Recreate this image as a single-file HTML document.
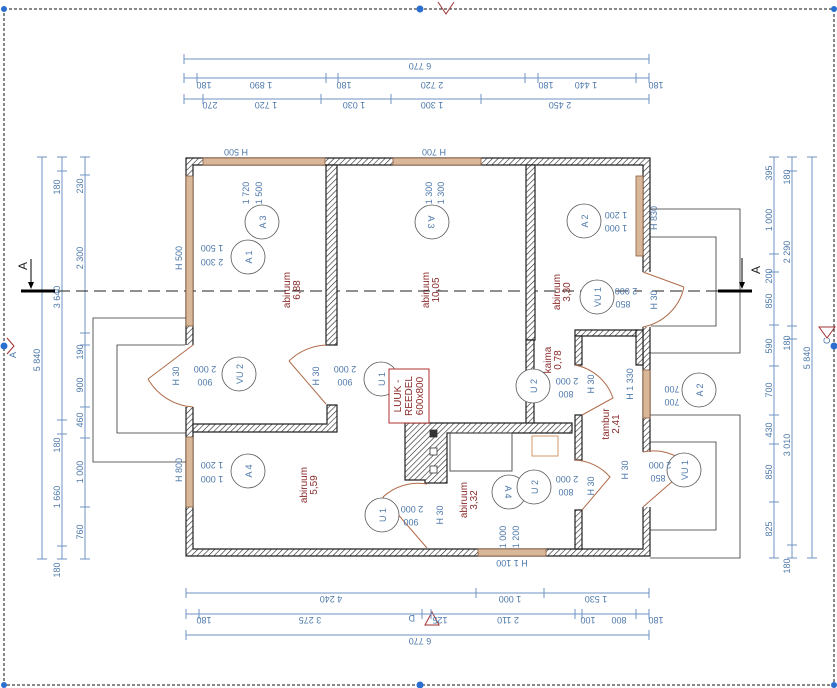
<!DOCTYPE html>
<html><head><meta charset="utf-8"><style>
html,body{margin:0;padding:0;background:#fff;}
svg{display:block;font-family:"Liberation Sans",sans-serif;}
.d{stroke:#6f93c0;stroke-width:1;fill:none}
.t{fill:#4d78aa;font-size:9px}
.r{fill:#8a2a2a;font-size:10px}
.w{fill:url(#h);stroke:#222;stroke-width:1.2}
.g{stroke:#333;stroke-width:.8;fill:none}
.o{stroke:#b06b4a;stroke-width:1;fill:none}
.c{stroke:#555;stroke-width:.8;fill:#fff}
</style></head><body>
<svg width="837" height="688" viewBox="0 0 837 688">
<defs>
<pattern id="h" width="4" height="4" patternUnits="userSpaceOnUse" patternTransform="rotate(45)">
<rect width="4" height="4" fill="#fff"/><line x1="0" y1="0" x2="0" y2="4" stroke="#222" stroke-width="1.2"/></pattern>
</defs>
<!-- dashed frame -->
<rect x="4" y="9" width="830" height="676" fill="none" stroke="#111" stroke-dasharray="3,2" stroke-width="1"/>
<circle cx="4" cy="346" r="3.5" fill="#2a6fd0"/><circle cx="834" cy="346" r="3.5" fill="#2a6fd0"/>
<circle cx="420" cy="9" r="3.5" fill="#2a6fd0"/><circle cx="420" cy="685" r="3.5" fill="#2a6fd0"/>
<circle cx="4" cy="9" r="3" fill="#2a6fd0"/><circle cx="834" cy="9" r="3" fill="#2a6fd0"/>
<circle cx="4" cy="685" r="3" fill="#2a6fd0"/><circle cx="834" cy="685" r="3" fill="#2a6fd0"/>
<path d="M438,2 L446,14 L454,2" fill="none" stroke="#a03030"/>
<path d="M7,338 L14,346 L7,354" fill="none" stroke="#a03030"/>
<path d="M827,338 L819,327 L835,327Z" fill="none" stroke="#a03030"/>
<path d="M425,625 L432,612 L439,625Z" fill="none" stroke="#a03030"/>
<text x="8" y="358" class="t" font-size="12" transform="rotate(-90 12 354)">A</text>
<text x="824" y="342" class="t" font-size="12" transform="rotate(-90 828 340)">C</text>
<text x="415" y="625" class="t" font-size="12" transform="rotate(180 415 620)">D</text>

<!-- top dims -->
<g class="d">
<line x1="184" y1="59" x2="649" y2="59"/><line x1="184" y1="54" x2="184" y2="64"/><line x1="649" y1="54" x2="649" y2="64"/>
<line x1="184" y1="78" x2="649" y2="78"/>
<g><line x1="184" y1="73" x2="184" y2="83"/><line x1="197" y1="73" x2="197" y2="83"/><line x1="326" y1="73" x2="326" y2="83"/><line x1="338" y1="73" x2="338" y2="83"/><line x1="525" y1="73" x2="525" y2="83"/><line x1="538" y1="73" x2="538" y2="83"/><line x1="636" y1="73" x2="636" y2="83"/><line x1="649" y1="73" x2="649" y2="83"/></g>
<line x1="184" y1="99" x2="649" y2="99"/>
<g><line x1="184" y1="94" x2="184" y2="104"/><line x1="203" y1="94" x2="203" y2="104"/><line x1="321" y1="94" x2="321" y2="104"/><line x1="391" y1="94" x2="391" y2="104"/><line x1="481" y1="94" x2="481" y2="104"/><line x1="649" y1="94" x2="649" y2="104"/></g>
</g>
<g class="t">
<text transform="rotate(180 420 66)" x="420" y="69" text-anchor="middle">6 770</text>
<text transform="rotate(180 204 85)" x="204" y="88" text-anchor="middle">180</text>
<text transform="rotate(180 261 85)" x="261" y="88" text-anchor="middle">1 890</text>
<text transform="rotate(180 344 85)" x="344" y="88" text-anchor="middle">180</text>
<text transform="rotate(180 432 85)" x="432" y="88" text-anchor="middle">2 720</text>
<text transform="rotate(180 546 85)" x="546" y="88" text-anchor="middle">180</text>
<text transform="rotate(180 586 85)" x="586" y="88" text-anchor="middle">1 440</text>
<text transform="rotate(180 656 85)" x="656" y="88" text-anchor="middle">180</text>
<text transform="rotate(180 210 105)" x="210" y="108" text-anchor="middle">270</text>
<text transform="rotate(180 266 105)" x="266" y="108" text-anchor="middle">1 720</text>
<text transform="rotate(180 354 105)" x="354" y="108" text-anchor="middle">1 030</text>
<text transform="rotate(180 432 105)" x="432" y="108" text-anchor="middle">1 300</text>
<text transform="rotate(180 560 105)" x="560" y="108" text-anchor="middle">2 450</text>
</g>

<!-- bottom dims -->
<g class="d">
<line x1="186" y1="593" x2="649" y2="593"/><line x1="186" y1="588" x2="186" y2="598"/><line x1="476" y1="588" x2="476" y2="598"/><line x1="544" y1="588" x2="544" y2="598"/><line x1="649" y1="588" x2="649" y2="598"/>
<line x1="186" y1="614" x2="649" y2="614"/><g><line x1="186" y1="609" x2="186" y2="619"/><line x1="199" y1="609" x2="199" y2="619"/><line x1="422" y1="609" x2="422" y2="619"/><line x1="431" y1="609" x2="431" y2="619"/><line x1="575" y1="609" x2="575" y2="619"/><line x1="582" y1="609" x2="582" y2="619"/><line x1="636" y1="609" x2="636" y2="619"/><line x1="649" y1="609" x2="649" y2="619"/></g>
<line x1="186" y1="635" x2="649" y2="635"/><line x1="186" y1="630" x2="186" y2="640"/><line x1="649" y1="630" x2="649" y2="640"/>
</g>
<g class="t">
<text transform="rotate(180 331 599)" x="331" y="602" text-anchor="middle">4 240</text>
<text transform="rotate(180 510 599)" x="510" y="602" text-anchor="middle">1 000</text>
<text transform="rotate(180 596 599)" x="596" y="602" text-anchor="middle">1 530</text>
<text transform="rotate(180 204 620)" x="204" y="623" text-anchor="middle">180</text>
<text transform="rotate(180 310 620)" x="310" y="623" text-anchor="middle">3 275</text>
<text transform="rotate(180 440 620)" x="440" y="623" text-anchor="middle">125</text>
<text transform="rotate(180 508 620)" x="508" y="623" text-anchor="middle">2 110</text>
<text transform="rotate(180 588 620)" x="588" y="623" text-anchor="middle">100</text>
<text transform="rotate(180 619 620)" x="619" y="623" text-anchor="middle">800</text>
<text transform="rotate(180 656 620)" x="656" y="623" text-anchor="middle">180</text>
<text transform="rotate(180 420 641)" x="420" y="644" text-anchor="middle">6 770</text>
<text transform="rotate(180 512 563)" x="512" y="566" text-anchor="middle">H 1 100</text>
</g>

<!-- left dims -->
<g class="d">
<line x1="42" y1="157" x2="42" y2="559"/><line x1="37" y1="157" x2="47" y2="157"/><line x1="37" y1="559" x2="47" y2="559"/>
<line x1="62" y1="157" x2="62" y2="559"/><g><line x1="57" y1="157" x2="67" y2="157"/><line x1="57" y1="171" x2="67" y2="171"/><line x1="57" y1="420" x2="67" y2="420"/><line x1="57" y1="434" x2="67" y2="434"/><line x1="57" y1="546" x2="67" y2="546"/><line x1="57" y1="559" x2="67" y2="559"/></g>
<line x1="85" y1="157" x2="85" y2="559"/><g><line x1="80" y1="157" x2="90" y2="157"/><line x1="80" y1="175" x2="90" y2="175"/><line x1="80" y1="333" x2="90" y2="333"/><line x1="80" y1="345" x2="90" y2="345"/><line x1="80" y1="407" x2="90" y2="407"/><line x1="80" y1="438" x2="90" y2="438"/><line x1="80" y1="507" x2="90" y2="507"/><line x1="80" y1="559" x2="90" y2="559"/></g>
</g>
<g class="t">
<text transform="rotate(-90 40 360)" x="40" y="360" text-anchor="middle">5 840</text>
<text transform="rotate(-90 60 297)" x="60" y="297" text-anchor="middle">3 640</text>
<text transform="rotate(-90 60 187)" x="60" y="187" text-anchor="middle">180</text>
<text transform="rotate(-90 60 445)" x="60" y="445" text-anchor="middle">180</text>
<text transform="rotate(-90 60 497)" x="60" y="497" text-anchor="middle">1 660</text>
<text transform="rotate(-90 60 570)" x="60" y="570" text-anchor="middle">180</text>
<text transform="rotate(-90 83 186)" x="83" y="186" text-anchor="middle">230</text>
<text transform="rotate(-90 83 258)" x="83" y="258" text-anchor="middle">2 300</text>
<text transform="rotate(-90 83 352)" x="83" y="352" text-anchor="middle">190</text>
<text transform="rotate(-90 83 385)" x="83" y="385" text-anchor="middle">900</text>
<text transform="rotate(-90 83 420)" x="83" y="420" text-anchor="middle">460</text>
<text transform="rotate(-90 83 472)" x="83" y="472" text-anchor="middle">1 000</text>
<text transform="rotate(-90 83 532)" x="83" y="532" text-anchor="middle">760</text>
</g>
<!-- right dims -->
<g class="d">
<line x1="774" y1="157" x2="774" y2="558"/><g><line x1="769" y1="157" x2="779" y2="157"/><line x1="769" y1="254" x2="779" y2="254"/><line x1="769" y1="272" x2="779" y2="272"/><line x1="769" y1="325" x2="779" y2="325"/><line x1="769" y1="366" x2="779" y2="366"/><line x1="769" y1="415" x2="779" y2="415"/><line x1="769" y1="444" x2="779" y2="444"/><line x1="769" y1="502" x2="779" y2="502"/><line x1="769" y1="558" x2="779" y2="558"/></g>
<line x1="792" y1="157" x2="792" y2="558"/><g><line x1="787" y1="157" x2="797" y2="157"/><line x1="787" y1="171" x2="797" y2="171"/><line x1="787" y1="326" x2="797" y2="326"/><line x1="787" y1="339" x2="797" y2="339"/><line x1="787" y1="545" x2="797" y2="545"/><line x1="787" y1="558" x2="797" y2="558"/></g>
<line x1="812" y1="157" x2="812" y2="558"/><line x1="807" y1="157" x2="817" y2="157"/><line x1="807" y1="558" x2="817" y2="558"/>
</g>
<g class="t">
<text transform="rotate(-90 772 173)" x="772" y="173" text-anchor="middle">395</text>
<text transform="rotate(-90 772 220)" x="772" y="220" text-anchor="middle">1 000</text>
<text transform="rotate(-90 772 276)" x="772" y="276" text-anchor="middle">200</text>
<text transform="rotate(-90 772 301)" x="772" y="301" text-anchor="middle">850</text>
<text transform="rotate(-90 772 346)" x="772" y="346" text-anchor="middle">590</text>
<text transform="rotate(-90 772 390)" x="772" y="390" text-anchor="middle">700</text>
<text transform="rotate(-90 772 430)" x="772" y="430" text-anchor="middle">430</text>
<text transform="rotate(-90 772 472)" x="772" y="472" text-anchor="middle">850</text>
<text transform="rotate(-90 772 529)" x="772" y="529" text-anchor="middle">825</text>
<text transform="rotate(-90 790 177)" x="790" y="177" text-anchor="middle">180</text>
<text transform="rotate(-90 790 252)" x="790" y="252" text-anchor="middle">2 290</text>
<text transform="rotate(-90 790 343)" x="790" y="343" text-anchor="middle">180</text>
<text transform="rotate(-90 790 445)" x="790" y="445" text-anchor="middle">3 010</text>
<text transform="rotate(-90 790 566)" x="790" y="566" text-anchor="middle">180</text>
<text transform="rotate(-90 810 358)" x="810" y="358" text-anchor="middle">5 840</text>
</g>

<!-- terraces / outlines -->
<g class="g">
<path d="M186,318 L93,318 L93,462 L186,462"/>
<path d="M186,345 L117,345 L117,433 L186,433"/>
<path d="M650,209 L740,209 L740,353 L650,353"/>
<path d="M650,237 L716,237 L716,326 L650,326"/>
<path d="M650,415 L740,415 L740,558 L650,558"/>
<path d="M650,442 L716,442 L716,530 L650,530"/>
</g>

<!-- section line -->
<line x1="22" y1="291" x2="750" y2="291" stroke="#222" stroke-dasharray="12,6" stroke-width="1"/>
<line x1="21" y1="291" x2="55" y2="291" stroke="#000" stroke-width="3"/>
<line x1="31" y1="259" x2="31" y2="288" stroke="#000"/><path d="M28,282 L31,289 L34,282Z"/>
<text x="22" y="275" transform="rotate(-90 22 270)" font-size="12" fill="#222">A</text>
<line x1="718" y1="291" x2="752" y2="291" stroke="#000" stroke-width="3"/>
<line x1="742" y1="258" x2="742" y2="288" stroke="#000"/><path d="M739,282 L742,289 L745,282Z"/>
<text x="754" y="272" transform="rotate(-90 758 270)" font-size="12" fill="#222">A</text>

<!-- outer walls -->
<path class="w" fill-rule="evenodd" d="M186,158 H650 V556 H186Z M193,165 V549 H643 V165Z"/>
<!-- windows (wood) -->
<g fill="#d9b89a" stroke="#8a5a3a" stroke-width=".8">
<rect x="203" y="158" width="122" height="7"/><rect x="393" y="158" width="88" height="7"/>
<rect x="186" y="176" width="7" height="150"/><rect x="186" y="437" width="7" height="70"/>
<rect x="636" y="176" width="7" height="80"/><rect x="643" y="370" width="7" height="48"/>
<rect x="478" y="549" width="68" height="7"/>
</g>
<!-- door openings in outer wall -->
<g fill="#fff"><rect x="185" y="345" width="9" height="62"/><rect x="642" y="272" width="9" height="55"/><rect x="642" y="452" width="9" height="55"/></g>
<!-- interior walls -->
<path class="w" d="M326,165 H337 V345 H326Z"/>
<path class="w" d="M327,405 H337 V432 H193 V424 H327Z"/>
<path class="w" d="M526,165 H535 V340 H526Z"/>
<path class="w" d="M526,340 H534 V425 H526Z"/>
<path class="w" d="M405,423 H572 V433 H447 V483 H425 V480 H405Z"/>
<path class="w" d="M575,330 H636 V336 H575Z"/>
<path class="w" d="M575,336 H582 V365 H575Z"/>
<path class="w" d="M575,415 H582 V460 H575Z"/>
<path class="w" d="M575,510 H582 V549 H575Z"/>
<path class="w" d="M636,330 H643 V365 H636Z"/>
<g fill="#fff" stroke="#333" stroke-width=".8"><rect x="430" y="430" width="7" height="7" fill="#333"/><rect x="430" y="448" width="7" height="7"/><rect x="430" y="466" width="7" height="7"/></g>
<rect x="450" y="433" width="62" height="38" fill="none" stroke="#555"/>
<rect x="532" y="436" width="26" height="20" fill="none" stroke="#d09a6a"/>

<!-- doors -->
<g class="o">
<path d="M193,345 L148,379 M148,379 A56,56 0 0 0 193,407"/>
<path d="M326,404 L289,361 M289,361 A56,56 0 0 1 326,345"/>
<path d="M643,272 L684,287 M684,287 A52,52 0 0 1 643,327"/>
<path d="M643,507 L690,466 M690,466 A52,52 0 0 0 643,452"/>
<path d="M427,548 L383,497 M383,497 A52,52 0 0 1 427,484"/>
<path d="M575,365 A50,50 0 0 1 613,398 L582,415"/>
<path d="M575,460 A50,50 0 0 1 610,477 L582,510"/>
</g>

<!-- circle tags -->
<g class="c">
<circle cx="262" cy="222" r="17"/><circle cx="248" cy="257" r="17"/><circle cx="432" cy="222" r="17"/>
<circle cx="584" cy="221" r="17"/><circle cx="597" cy="297" r="17"/><circle cx="239" cy="374" r="17"/>
<circle cx="381" cy="379" r="17"/><circle cx="533" cy="386" r="17"/><circle cx="248" cy="471" r="17"/>
<circle cx="509" cy="492" r="17"/><circle cx="534" cy="487" r="17"/><circle cx="382" cy="515" r="17"/>
<circle cx="699" cy="390" r="17"/><circle cx="684" cy="470" r="17"/>
</g>
<g class="t" font-size="10">
<text transform="rotate(-90 266 222)" x="266" y="222" text-anchor="middle">A 3</text>
<text transform="rotate(-90 252 257)" x="252" y="257" text-anchor="middle">A 1</text>
<text transform="rotate(90 428 222)" x="428" y="222" text-anchor="middle">A 3</text>
<text transform="rotate(-90 588 221)" x="588" y="221" text-anchor="middle">A 2</text>
<text transform="rotate(-90 601 297)" x="601" y="297" text-anchor="middle">VU 1</text>
<text transform="rotate(-90 243 374)" x="243" y="374" text-anchor="middle">VU 2</text>
<text transform="rotate(-90 385 379)" x="385" y="379" text-anchor="middle">U 1</text>
<text transform="rotate(-90 537 386)" x="537" y="386" text-anchor="middle">U 2</text>
<text transform="rotate(-90 252 471)" x="252" y="471" text-anchor="middle">A 4</text>
<text transform="rotate(90 505 492)" x="505" y="492" text-anchor="middle">A 4</text>
<text transform="rotate(-90 538 487)" x="538" y="487" text-anchor="middle">U 2</text>
<text transform="rotate(-90 386 515)" x="386" y="515" text-anchor="middle">U 1</text>
<text transform="rotate(-90 703 390)" x="703" y="390" text-anchor="middle">A 2</text>
<text transform="rotate(-90 688 470)" x="688" y="470" text-anchor="middle">VU 1</text>
</g>
<!-- tag leader text (upside-down) -->
<g class="t">
<text transform="rotate(-90 249 193)" x="249" y="193" text-anchor="middle">1 720</text>
<text transform="rotate(-90 262 193)" x="262" y="193" text-anchor="middle">1 500</text>
<text transform="rotate(-90 432 193)" x="432" y="193" text-anchor="middle">1 300</text>
<text transform="rotate(-90 444 193)" x="444" y="193" text-anchor="middle">1 300</text>
<text transform="rotate(180 212 248)" x="212" y="251" text-anchor="middle">1 500</text>
<text transform="rotate(180 212 262)" x="212" y="265" text-anchor="middle">2 300</text>
<text transform="rotate(180 616 215)" x="616" y="218" text-anchor="middle">1 200</text>
<text transform="rotate(180 616 228)" x="616" y="231" text-anchor="middle">1 000</text>
<text transform="rotate(180 626 291)" x="626" y="294" text-anchor="middle">2 000</text>
<text transform="rotate(180 623 304)" x="623" y="307" text-anchor="middle">850</text>
<text transform="rotate(180 205 369)" x="205" y="372" text-anchor="middle">2 000</text>
<text transform="rotate(180 205 382)" x="205" y="385" text-anchor="middle">900</text>
<text transform="rotate(180 345 369)" x="345" y="372" text-anchor="middle">2 000</text>
<text transform="rotate(180 345 382)" x="345" y="385" text-anchor="middle">900</text>
<text transform="rotate(180 567 381)" x="567" y="384" text-anchor="middle">2 000</text>
<text transform="rotate(180 566 394)" x="566" y="397" text-anchor="middle">800</text>
<text transform="rotate(180 212 465)" x="212" y="468" text-anchor="middle">1 200</text>
<text transform="rotate(180 212 479)" x="212" y="482" text-anchor="middle">1 000</text>
<text transform="rotate(180 567 479)" x="567" y="482" text-anchor="middle">2 000</text>
<text transform="rotate(180 566 492)" x="566" y="495" text-anchor="middle">800</text>
<text transform="rotate(180 412 509)" x="412" y="512" text-anchor="middle">2 000</text>
<text transform="rotate(180 411 522)" x="411" y="525" text-anchor="middle">900</text>
<text transform="rotate(180 672 389)" x="672" y="392" text-anchor="middle">700</text>
<text transform="rotate(180 672 402)" x="672" y="405" text-anchor="middle">700</text>
<text transform="rotate(180 660 465)" x="660" y="468" text-anchor="middle">2 000</text>
<text transform="rotate(180 658 478)" x="658" y="481" text-anchor="middle">850</text>
<text transform="rotate(-90 506 537)" x="506" y="537" text-anchor="middle">1 000</text>
<text transform="rotate(-90 519 537)" x="519" y="537" text-anchor="middle">1 200</text>
<text transform="rotate(-90 182 258)" x="182" y="258" text-anchor="middle">H 500</text>
<text transform="rotate(-90 182 470)" x="182" y="470" text-anchor="middle">H 800</text>
<text transform="rotate(180 236 152)" x="236" y="155" text-anchor="middle">H 500</text>
<text transform="rotate(180 434 152)" x="434" y="155" text-anchor="middle">H 700</text>
<text transform="rotate(-90 657 218)" x="657" y="218" text-anchor="middle">H 830</text>
<text transform="rotate(-90 657 300)" x="657" y="300" text-anchor="middle">H 30</text>
<text transform="rotate(-90 179 376)" x="179" y="376" text-anchor="middle">H 30</text>
<text transform="rotate(-90 319 376)" x="319" y="376" text-anchor="middle">H 30</text>
<text transform="rotate(-90 594 384)" x="594" y="384" text-anchor="middle">H 30</text>
<text transform="rotate(-90 633 384)" x="633" y="384" text-anchor="middle">H 1 330</text>
<text transform="rotate(-90 594 486)" x="594" y="486" text-anchor="middle">H 30</text>
<text transform="rotate(-90 628 470)" x="628" y="470" text-anchor="middle">H 30</text>
<text transform="rotate(-90 443 515)" x="443" y="515" text-anchor="middle">H 30</text>
</g>
<!-- room labels -->
<g class="r">
<text transform="rotate(-90 290 290)" x="290" y="290" text-anchor="middle">abiruum</text>
<text transform="rotate(-90 300 290)" x="300" y="290" text-anchor="middle">6,88</text>
<text transform="rotate(-90 429 290)" x="429" y="290" text-anchor="middle">abiruum</text>
<text transform="rotate(-90 439 290)" x="439" y="290" text-anchor="middle">10,05</text>
<text transform="rotate(-90 560 292)" x="560" y="292" text-anchor="middle">abiruum</text>
<text transform="rotate(-90 570 292)" x="570" y="292" text-anchor="middle">3,30</text>
<text transform="rotate(-90 551 360)" x="551" y="360" text-anchor="middle">kaima</text>
<text transform="rotate(-90 561 360)" x="561" y="360" text-anchor="middle">0,78</text>
<text transform="rotate(-90 609 424)" x="609" y="424" text-anchor="middle">tambur</text>
<text transform="rotate(-90 619 424)" x="619" y="424" text-anchor="middle">2,41</text>
<text transform="rotate(-90 307 485)" x="307" y="485" text-anchor="middle">abiruum</text>
<text transform="rotate(-90 317 485)" x="317" y="485" text-anchor="middle">5,59</text>
<text transform="rotate(-90 467 500)" x="467" y="500" text-anchor="middle">abiruum</text>
<text transform="rotate(-90 477 500)" x="477" y="500" text-anchor="middle">3,32</text>
</g>
<rect x="389" y="369" width="40" height="54" fill="#fff" stroke="#b03030"/>
<g class="r">
<text transform="rotate(-90 401 396)" x="401" y="396" text-anchor="middle">LUUK -</text>
<text transform="rotate(-90 412 396)" x="412" y="396" text-anchor="middle">REEDEL</text>
<text transform="rotate(-90 423 396)" x="423" y="396" text-anchor="middle">600x800</text>
</g>
</svg>
</body></html>
